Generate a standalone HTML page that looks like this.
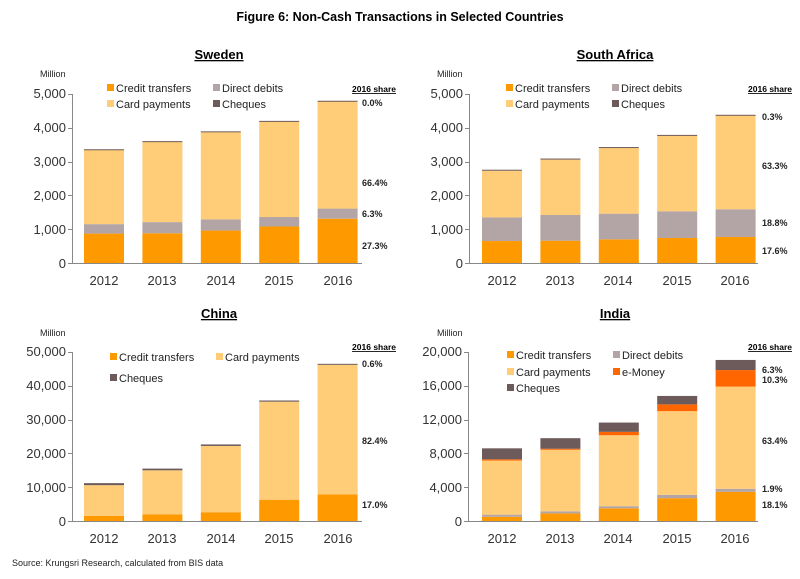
<!DOCTYPE html>
<html><head><meta charset="utf-8">
<style>
html,body{margin:0;padding:0;background:#fff;}
svg{display:block;font-family:"Liberation Sans",sans-serif;}
</style></head>
<body>
<svg id="s" width="800" height="579" xmlns="http://www.w3.org/2000/svg">
<rect width="800" height="579" fill="#fff"/>
<text x="400" y="21" text-anchor="middle" font-size="12.5" font-weight="bold">Figure 6: Non-Cash Transactions in Selected Countries</text>
<g font-size="13" font-weight="bold" text-anchor="middle" text-decoration="underline">
<text x="219" y="59">Sweden</text><text x="615" y="59">South Africa</text>
<text x="219" y="318">China</text><text x="615" y="318">India</text>
</g>
<g font-size="9" fill="#222">
<text x="40" y="77">Million</text><text x="437" y="77">Million</text>
<text x="40" y="336">Million</text><text x="437" y="336">Million</text>
</g>
<g font-size="8.5" font-weight="bold" text-decoration="underline" text-anchor="end">
<text x="396" y="92">2016 share</text><text x="792" y="92">2016 share</text>
<text x="396" y="350">2016 share</text><text x="792" y="350">2016 share</text>
</g>
<g font-size="9" font-weight="bold" fill="#222">
<text x="362" y="106">0.0%</text><text x="362" y="186">66.4%</text><text x="362" y="217">6.3%</text><text x="362" y="249">27.3%</text>
<text x="762" y="120">0.3%</text><text x="762" y="169">63.3%</text><text x="762" y="226">18.8%</text><text x="762" y="254">17.6%</text>
<text x="362" y="367">0.6%</text><text x="362" y="444">82.4%</text><text x="362" y="508">17.0%</text>
<text x="762" y="373">6.3%</text><text x="762" y="383">10.3%</text><text x="762" y="444">63.4%</text><text x="762" y="492">1.9%</text><text x="762" y="508">18.1%</text>
</g>
<g font-size="11" fill="#222">
<text x="116" y="92">Credit transfers</text><text x="222" y="92">Direct debits</text>
<text x="116" y="108">Card payments</text><text x="222" y="108">Cheques</text>
<text x="515" y="92">Credit transfers</text><text x="621" y="92">Direct debits</text>
<text x="515" y="108">Card payments</text><text x="621" y="108">Cheques</text>
<text x="119" y="361">Credit transfers</text><text x="225" y="361">Card payments</text>
<text x="119" y="382">Cheques</text>
<text x="516" y="359">Credit transfers</text><text x="622" y="359">Direct debits</text>
<text x="516" y="376">Card payments</text><text x="622" y="376">e-Money</text>
<text x="516" y="392">Cheques</text>
</g>
<g>
<rect x="107" y="84" width="7" height="7" fill="#FF9900"/><rect x="213" y="84" width="7" height="7" fill="#B3A5A5"/>
<rect x="107" y="100" width="7" height="7" fill="#FFCC77"/><rect x="213" y="100" width="7" height="7" fill="#6D5A5A"/>
<rect x="506" y="84" width="7" height="7" fill="#FF9900"/><rect x="612" y="84" width="7" height="7" fill="#B3A5A5"/>
<rect x="506" y="100" width="7" height="7" fill="#FFCC77"/><rect x="612" y="100" width="7" height="7" fill="#6D5A5A"/>
<rect x="110" y="353" width="7" height="7" fill="#FF9900"/><rect x="216" y="353" width="7" height="7" fill="#FFCC77"/>
<rect x="110" y="374" width="7" height="7" fill="#6D5A5A"/>
<rect x="507" y="351" width="7" height="7" fill="#FF9900"/><rect x="613" y="351" width="7" height="7" fill="#B3A5A5"/>
<rect x="507" y="368" width="7" height="7" fill="#FFCC77"/><rect x="613" y="368" width="7" height="7" fill="#FF6600"/>
<rect x="507" y="384" width="7" height="7" fill="#6D5A5A"/>
</g>
<g font-size="13" fill="#333" text-anchor="end">
<text x="66" y="268">0</text><text x="66" y="234">1,000</text><text x="66" y="200">2,000</text><text x="66" y="166">3,000</text><text x="66" y="132">4,000</text><text x="66" y="98">5,000</text>
<text x="463" y="268">0</text><text x="463" y="234">1,000</text><text x="463" y="200">2,000</text><text x="463" y="166">3,000</text><text x="463" y="132">4,000</text><text x="463" y="98">5,000</text>
<text x="66" y="526">0</text><text x="66" y="492">10,000</text><text x="66" y="458">20,000</text><text x="66" y="424">30,000</text><text x="66" y="390">40,000</text><text x="66" y="356">50,000</text>
<text x="462" y="526">0</text><text x="462" y="492">4,000</text><text x="462" y="458">8,000</text><text x="462" y="424">12,000</text><text x="462" y="390">16,000</text><text x="462" y="356">20,000</text>
</g>
<g font-size="13" fill="#333" text-anchor="middle">
<text x="104" y="285">2012</text><text x="162" y="285">2013</text><text x="221" y="285">2014</text><text x="279" y="285">2015</text><text x="338" y="285">2016</text>
<text x="502" y="285">2012</text><text x="560" y="285">2013</text><text x="618" y="285">2014</text><text x="677" y="285">2015</text><text x="735" y="285">2016</text>
<text x="104" y="543">2012</text><text x="162" y="543">2013</text><text x="221" y="543">2014</text><text x="279" y="543">2015</text><text x="338" y="543">2016</text>
<text x="502" y="543">2012</text><text x="560" y="543">2013</text><text x="618" y="543">2014</text><text x="677" y="543">2015</text><text x="735" y="543">2016</text>
</g>
<text x="12" y="566" font-size="9" fill="#222">Source: Krungsri Research, calculated from BIS data</text>
<g id="bars"></g>
<g stroke="#888" stroke-width="1">
<line x1="72.5" y1="94" x2="72.5" y2="263"/><line x1="72" y1="263.5" x2="362" y2="263.5"/>
<line x1="469.5" y1="94" x2="469.5" y2="263"/><line x1="469" y1="263.5" x2="758" y2="263.5"/>
<line x1="72.5" y1="352" x2="72.5" y2="521"/><line x1="72" y1="521.5" x2="362" y2="521.5"/>
<line x1="468.5" y1="352" x2="468.5" y2="521"/><line x1="468" y1="521.5" x2="758" y2="521.5"/>
</g>
<g id="ticks" stroke="#888"></g>
</svg>
<script>
var C={ct:"#FF9900",dd:"#B3A5A5",cp:"#FFCC77",em:"#FF6600",ch:"#6D5A5A"};
var P=[
 {x0:84,zero:263,h:169,max:5000,ax:72,s:{ct:[870,880,960,1080,1310],dd:[280,330,330,280,300],cp:[2200,2380,2590,2830,3180],ch:[15,15,15,15,10]}},
 {x0:482,zero:263,h:169,max:5000,ax:469,s:{ct:[650,660,700,740,770],dd:[700,760,760,790,820],cp:[1380,1640,1950,2240,2780],ch:[30,30,20,20,15]}},
 {x0:84,zero:521,h:169,max:50000,ax:72,s:{ct:[1500,2000,2600,6300,7900],cp:[9100,13000,19600,29000,38300],ch:[600,500,450,350,300]}},
 {x0:482,zero:521,h:169,max:20000,ax:468,s:{ct:[500,900,1500,2700,3450],dd:[250,250,250,400,360],cp:[6400,7300,8400,9900,12100],em:[150,100,400,800,1950],ch:[1300,1250,1100,1000,1200]}}
];
var g=document.getElementById("bars"),t=document.getElementById("ticks"),ns="http://www.w3.org/2000/svg";
P.forEach(function(p){
 for(var i=0;i<5;i++){
  var x=p.x0+i*58.4,acc=0;
  ["ct","dd","cp","em","ch"].forEach(function(k){
   if(!p.s[k])return;var v=p.s[k][i];
   var y1=p.zero-(acc+v)/p.max*p.h,y0=p.zero-acc/p.max*p.h;acc+=v;
   var r=document.createElementNS(ns,"rect");
   r.setAttribute("x",x);r.setAttribute("y",y1);r.setAttribute("width",40);r.setAttribute("height",Math.max(y0-y1,1));r.setAttribute("fill",C[k]);g.appendChild(r);
  });
 }
 for(var j=0;j<=5;j++){var l=document.createElementNS(ns,"line");var yy=Math.round(p.zero-j*p.h/5)+0.5;
  l.setAttribute("x1",p.ax-4);l.setAttribute("x2",p.ax);l.setAttribute("y1",yy);l.setAttribute("y2",yy);t.appendChild(l);}
});
</script>
</body></html>
